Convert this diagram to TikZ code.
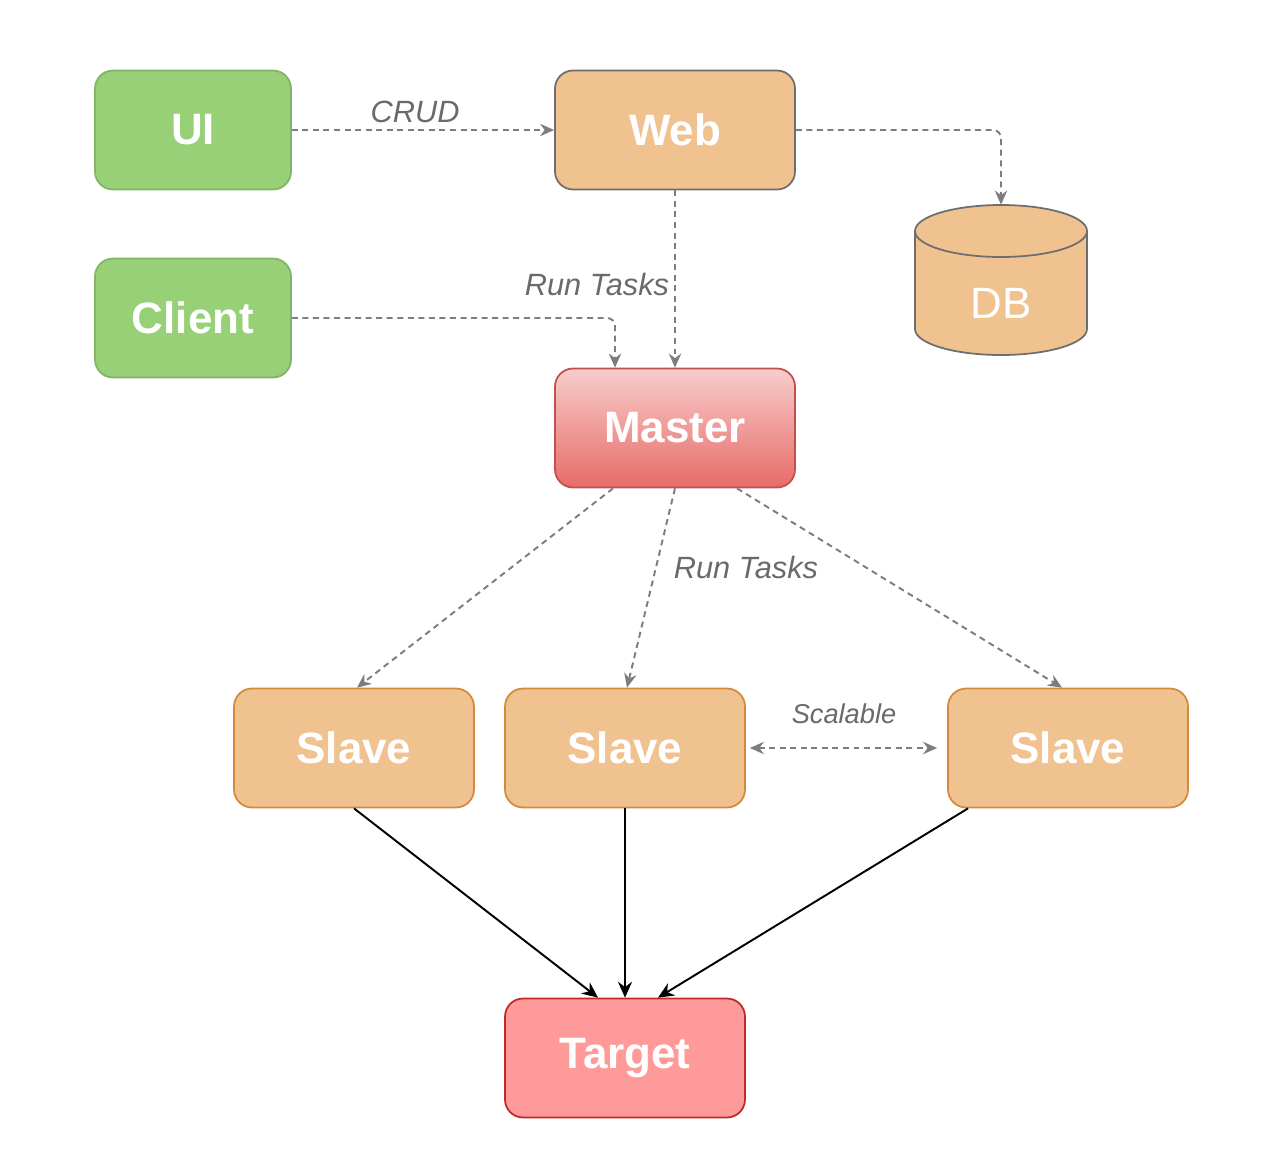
\documentclass[tikz,border=0pt]{standalone}
\usepackage{fontspec}
\setmainfont{Liberation Sans}
\usetikzlibrary{arrows.meta,calc}
\definecolor{gfill}{HTML}{97D077}
\definecolor{gdraw}{HTML}{82B366}
\definecolor{ofill}{HTML}{F0C290}
\definecolor{odraw}{HTML}{D48A3A}
\definecolor{greyd}{HTML}{6E6E6E}
\definecolor{mtop}{HTML}{F7CDCC}
\definecolor{mbot}{HTML}{E86B68}
\definecolor{mdraw}{HTML}{C0504D}
\definecolor{tfill}{HTML}{FF9A9A}
\definecolor{tdraw}{HTML}{C0282A}
\definecolor{lbl}{HTML}{6A6A6A}
\begin{document}
\begin{tikzpicture}[x=0.02cm,y=-0.02cm,
  box/.style={rounded corners=0.36cm, line width=1pt, minimum height=2.38cm,
    text=white, font=\bfseries\fontsize{25}{30}\selectfont, inner sep=0pt},
  greenbox/.style={box, fill=gfill, draw=gdraw, minimum width=3.92cm},
  webbox/.style={box, fill=ofill, draw=greyd, minimum width=4.8cm},
  slavebox/.style={box, fill=ofill, draw=odraw, minimum width=4.8cm},
  masterbox/.style={box, top color=mtop, bottom color=mbot, draw=mdraw, minimum width=4.8cm},
  targetbox/.style={box, fill=tfill, draw=tdraw, minimum width=4.8cm},
  dashline/.style={draw=greyd!90, line width=1.1pt, dash pattern=on 3.4pt off 2.6pt,
    -{Stealth[length=8pt,width=7pt]}},
  solidline/.style={draw=black, line width=1.1pt, -{Stealth[length=9pt,width=8pt]}},
  lab/.style={text=lbl, font=\itshape\fontsize{17.5}{20}\selectfont, inner sep=0pt},
  slab/.style={text=lbl, font=\itshape\fontsize{15.5}{18}\selectfont, inner sep=0pt}
]
\useasboundingbox[fill=white] (0,0) rectangle (1274,1174);

\node[greenbox] (UI) at (193,130) {UI};
\node[webbox] (Web) at (675,130) {Web};
\node[greenbox] (Client) at (193,318) {Client};
\node[masterbox] (Master) at (675,428) {Master};
\node[slavebox] (S1) at (354,748) {Slave};
\node[slavebox] (S2) at (625,748) {Slave};
\node[slavebox] (S3) at (1068,748) {Slave};
\node[targetbox] (Target) at (625,1058) {Target};

% DB cylinder
\fill[ofill] (915,231) -- (915,329) arc[start angle=180,end angle=360,x radius=1.72cm,y radius=0.52cm]
  -- (1087,231) arc[start angle=0,end angle=180,x radius=1.72cm,y radius=0.52cm] -- cycle;
\draw[greyd, line width=1pt] (915,231) -- (915,329) arc[start angle=180,end angle=360,x radius=1.72cm,y radius=0.52cm]
  -- (1087,231) arc[start angle=0,end angle=180,x radius=1.72cm,y radius=0.52cm];
\draw[greyd, line width=1pt] (915,231) arc[start angle=180,end angle=360,x radius=1.72cm,y radius=0.52cm];
\node[minimum width=3.44cm, minimum height=3.0cm, inner sep=0pt, text=white,
  font=\fontsize{25}{30}\selectfont] (DB) at (1001,280) {};
\node[text=white, font=\fontsize{25}{30}\selectfont, inner sep=0pt] (DBtext) at (1001,303) {DB};

% connectors
\draw[dashline] (UI) -- node[lab, pos=0.47, yshift=0.36cm] (crud) {CRUD} (Web);
\draw[dashline, rounded corners=0.16cm] (Web.east) -| (DB.north);
\draw[dashline] (Web.south) -- (Master.north);
\node[lab] (rt1) at (597,285) {Run Tasks};
\draw[dashline, rounded corners=0.16cm] (Client.east) -| ([xshift=-1.2cm]Master.north);

\draw[dashline] ([xshift=-1.24cm]Master.south) -- ([xshift=0.06cm]S1.north);
\draw[dashline] (Master.south) -- ([xshift=0.04cm]S2.north);
\draw[dashline] ([xshift=1.24cm]Master.south) -- ([xshift=-0.12cm]S3.north);
\node[lab] (rt2) at (746,567) {Run Tasks};

\draw[dashline, {Stealth[length=8pt,width=7pt]}-{Stealth[length=8pt,width=7pt]},
  shorten <=0.08cm, shorten >=0.2cm] (S2.east) -- (S3.west);
\node[slab] (sc) at (844,714) {Scalable};

\draw[solidline] (S1.south) -- ([xshift=-0.54cm]Target.north);
\draw[solidline] (S2.south) -- (Target.north);
\draw[solidline] ([xshift=-2cm]S3.south) -- ([xshift=0.66cm]Target.north);
\end{tikzpicture}
\end{document}
